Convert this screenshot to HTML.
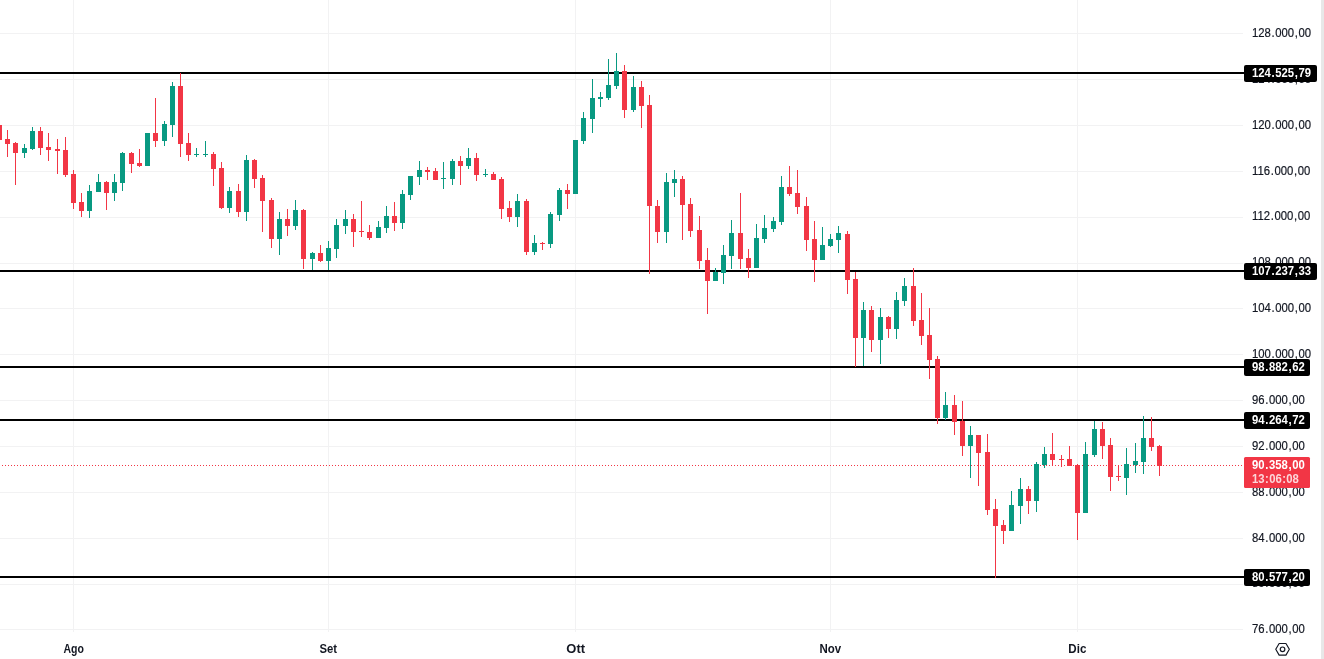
<!DOCTYPE html>
<html><head><meta charset="utf-8"><title>chart</title>
<style>
html,body{margin:0;padding:0;background:#fff;}
body{width:1324px;height:659px;overflow:hidden;position:relative;font-family:"Liberation Sans",sans-serif;}
#c{position:absolute;left:0;top:0;}
#txt{position:absolute;left:0;top:0;width:1324px;height:659px;will-change:transform;}
.pl{position:absolute;left:1252px;-webkit-text-stroke:0.2px #131722;height:14px;line-height:14px;font-size:12.5px;color:#131722;white-space:nowrap;transform-origin:0 50%;transform:scaleX(0.905);}
.p{padding:0 0.7px;}
.q{padding:0 0.45px;}
.bx{position:absolute;left:1244px;height:17px;border-radius:2px;background:#000;}
.t{position:absolute;left:8px;color:#fff;font-weight:bold;font-size:12.5px;white-space:nowrap;transform-origin:0 50%;transform:scaleX(0.905);}
.bx .t{top:0;height:17px;line-height:17px;}
.cp{position:absolute;left:1244px;top:457px;width:66px;height:31px;border-radius:1.5px;background:#f23645;}
.cp .t{height:14px;line-height:14px;}
.tl{position:absolute;top:641px;height:16px;line-height:16px;width:60px;text-align:center;font-size:12px;font-weight:bold;color:#131722;}
.tl span{display:inline-block;}
#strip{position:absolute;left:1321px;top:0;width:3px;height:659px;background:#e8e8e8;}
</style></head><body>
<svg id="c" width="1324" height="659" viewBox="0 0 1324 659" shape-rendering="crispEdges">
<rect x="73" y="0" width="1" height="632" fill="#f2f2f3"/>
<rect x="328" y="0" width="1" height="632" fill="#f2f2f3"/>
<rect x="575" y="0" width="1" height="632" fill="#f2f2f3"/>
<rect x="830" y="0" width="1" height="632" fill="#f2f2f3"/>
<rect x="1077" y="0" width="1" height="632" fill="#f2f2f3"/>
<rect x="0" y="629" width="1243" height="1" fill="#f2f2f3"/>
<rect x="0" y="584" width="1243" height="1" fill="#f2f2f3"/>
<rect x="0" y="538" width="1243" height="1" fill="#f2f2f3"/>
<rect x="0" y="492" width="1243" height="1" fill="#f2f2f3"/>
<rect x="0" y="446" width="1243" height="1" fill="#f2f2f3"/>
<rect x="0" y="400" width="1243" height="1" fill="#f2f2f3"/>
<rect x="0" y="354" width="1243" height="1" fill="#f2f2f3"/>
<rect x="0" y="308" width="1243" height="1" fill="#f2f2f3"/>
<rect x="0" y="263" width="1243" height="1" fill="#f2f2f3"/>
<rect x="0" y="217" width="1243" height="1" fill="#f2f2f3"/>
<rect x="0" y="171" width="1243" height="1" fill="#f2f2f3"/>
<rect x="0" y="125" width="1243" height="1" fill="#f2f2f3"/>
<rect x="0" y="79" width="1243" height="1" fill="#f2f2f3"/>
<rect x="0" y="33" width="1243" height="1" fill="#f2f2f3"/>
<rect x="0" y="72" width="1244" height="2" fill="#000"/>
<rect x="0" y="270" width="1244" height="2" fill="#000"/>
<rect x="0" y="366" width="1244" height="2" fill="#000"/>
<rect x="0" y="419" width="1244" height="2" fill="#000"/>
<rect x="0" y="576" width="1244" height="2" fill="#000"/>
<line x1="-1" y1="465.5" x2="1244" y2="465.5" stroke="#f23645" stroke-width="1" stroke-dasharray="1 2"/>
<rect x="-1" y="125" width="1" height="15" fill="#f23645"/>
<rect x="-3" y="125" width="5" height="15" fill="#f23645"/>
<rect x="7" y="130" width="1" height="27" fill="#f23645"/>
<rect x="5" y="139" width="5" height="5" fill="#f23645"/>
<rect x="15" y="142" width="1" height="43" fill="#f23645"/>
<rect x="13" y="143" width="5" height="10" fill="#f23645"/>
<rect x="24" y="144" width="1" height="14" fill="#089981"/>
<rect x="22" y="148" width="5" height="5" fill="#089981"/>
<rect x="32" y="127" width="1" height="23" fill="#089981"/>
<rect x="30" y="131" width="5" height="18" fill="#089981"/>
<rect x="40" y="127" width="1" height="28" fill="#f23645"/>
<rect x="38" y="131" width="5" height="17" fill="#f23645"/>
<rect x="48" y="133" width="1" height="28" fill="#f23645"/>
<rect x="46" y="147" width="5" height="3" fill="#f23645"/>
<rect x="57" y="139" width="1" height="35" fill="#f23645"/>
<rect x="55" y="149" width="5" height="2" fill="#f23645"/>
<rect x="65" y="137" width="1" height="40" fill="#f23645"/>
<rect x="63" y="150" width="5" height="25" fill="#f23645"/>
<rect x="73" y="170" width="1" height="39" fill="#f23645"/>
<rect x="71" y="174" width="5" height="29" fill="#f23645"/>
<rect x="81" y="193" width="1" height="24" fill="#f23645"/>
<rect x="79" y="202" width="5" height="9" fill="#f23645"/>
<rect x="89" y="185" width="1" height="33" fill="#089981"/>
<rect x="87" y="191" width="5" height="20" fill="#089981"/>
<rect x="98" y="174" width="1" height="18" fill="#089981"/>
<rect x="96" y="182" width="5" height="10" fill="#089981"/>
<rect x="106" y="181" width="1" height="29" fill="#f23645"/>
<rect x="104" y="182" width="5" height="11" fill="#f23645"/>
<rect x="114" y="174" width="1" height="27" fill="#089981"/>
<rect x="112" y="182" width="5" height="11" fill="#089981"/>
<rect x="122" y="152" width="1" height="39" fill="#089981"/>
<rect x="120" y="153" width="5" height="30" fill="#089981"/>
<rect x="131" y="152" width="1" height="21" fill="#f23645"/>
<rect x="129" y="153" width="5" height="11" fill="#f23645"/>
<rect x="139" y="149" width="1" height="18" fill="#f23645"/>
<rect x="137" y="163" width="5" height="3" fill="#f23645"/>
<rect x="147" y="133" width="1" height="33" fill="#089981"/>
<rect x="145" y="133" width="5" height="33" fill="#089981"/>
<rect x="155" y="98" width="1" height="49" fill="#f23645"/>
<rect x="153" y="133" width="5" height="8" fill="#f23645"/>
<rect x="164" y="121" width="1" height="25" fill="#089981"/>
<rect x="162" y="124" width="5" height="17" fill="#089981"/>
<rect x="172" y="82" width="1" height="55" fill="#089981"/>
<rect x="170" y="86" width="5" height="39" fill="#089981"/>
<rect x="180" y="73" width="1" height="84" fill="#f23645"/>
<rect x="178" y="86" width="5" height="58" fill="#f23645"/>
<rect x="188" y="133" width="1" height="28" fill="#f23645"/>
<rect x="186" y="143" width="5" height="12" fill="#f23645"/>
<rect x="196" y="148" width="1" height="9" fill="#089981"/>
<rect x="194" y="154" width="5" height="1" fill="#089981"/>
<rect x="205" y="141" width="1" height="16" fill="#089981"/>
<rect x="203" y="154" width="5" height="1" fill="#089981"/>
<rect x="213" y="152" width="1" height="34" fill="#f23645"/>
<rect x="211" y="154" width="5" height="15" fill="#f23645"/>
<rect x="221" y="162" width="1" height="47" fill="#f23645"/>
<rect x="219" y="168" width="5" height="40" fill="#f23645"/>
<rect x="229" y="187" width="1" height="26" fill="#089981"/>
<rect x="227" y="191" width="5" height="17" fill="#089981"/>
<rect x="238" y="184" width="1" height="33" fill="#f23645"/>
<rect x="236" y="191" width="5" height="21" fill="#f23645"/>
<rect x="246" y="155" width="1" height="66" fill="#089981"/>
<rect x="244" y="160" width="5" height="52" fill="#089981"/>
<rect x="254" y="159" width="1" height="29" fill="#f23645"/>
<rect x="252" y="160" width="5" height="19" fill="#f23645"/>
<rect x="262" y="175" width="1" height="57" fill="#f23645"/>
<rect x="260" y="178" width="5" height="23" fill="#f23645"/>
<rect x="271" y="198" width="1" height="50" fill="#f23645"/>
<rect x="269" y="200" width="5" height="39" fill="#f23645"/>
<rect x="279" y="212" width="1" height="43" fill="#089981"/>
<rect x="277" y="219" width="5" height="20" fill="#089981"/>
<rect x="287" y="209" width="1" height="27" fill="#f23645"/>
<rect x="285" y="219" width="5" height="7" fill="#f23645"/>
<rect x="295" y="200" width="1" height="30" fill="#089981"/>
<rect x="293" y="210" width="5" height="16" fill="#089981"/>
<rect x="303" y="209" width="1" height="60" fill="#f23645"/>
<rect x="301" y="210" width="5" height="49" fill="#f23645"/>
<rect x="312" y="252" width="1" height="18" fill="#089981"/>
<rect x="310" y="253" width="5" height="6" fill="#089981"/>
<rect x="320" y="245" width="1" height="17" fill="#f23645"/>
<rect x="318" y="253" width="5" height="8" fill="#f23645"/>
<rect x="328" y="241" width="1" height="29" fill="#089981"/>
<rect x="326" y="248" width="5" height="13" fill="#089981"/>
<rect x="336" y="219" width="1" height="39" fill="#089981"/>
<rect x="334" y="225" width="5" height="24" fill="#089981"/>
<rect x="345" y="210" width="1" height="24" fill="#089981"/>
<rect x="343" y="219" width="5" height="7" fill="#089981"/>
<rect x="353" y="214" width="1" height="33" fill="#f23645"/>
<rect x="351" y="219" width="5" height="13" fill="#f23645"/>
<rect x="361" y="201" width="1" height="36" fill="#f23645"/>
<rect x="359" y="231" width="5" height="1" fill="#f23645"/>
<rect x="369" y="225" width="1" height="15" fill="#f23645"/>
<rect x="367" y="232" width="5" height="6" fill="#f23645"/>
<rect x="378" y="221" width="1" height="17" fill="#089981"/>
<rect x="376" y="227" width="5" height="11" fill="#089981"/>
<rect x="386" y="206" width="1" height="27" fill="#089981"/>
<rect x="384" y="216" width="5" height="12" fill="#089981"/>
<rect x="394" y="202" width="1" height="29" fill="#f23645"/>
<rect x="392" y="216" width="5" height="7" fill="#f23645"/>
<rect x="402" y="190" width="1" height="39" fill="#089981"/>
<rect x="400" y="194" width="5" height="29" fill="#089981"/>
<rect x="410" y="176" width="1" height="24" fill="#089981"/>
<rect x="408" y="176" width="5" height="19" fill="#089981"/>
<rect x="419" y="161" width="1" height="24" fill="#089981"/>
<rect x="417" y="170" width="5" height="7" fill="#089981"/>
<rect x="427" y="167" width="1" height="13" fill="#f23645"/>
<rect x="425" y="170" width="5" height="2" fill="#f23645"/>
<rect x="435" y="168" width="1" height="12" fill="#f23645"/>
<rect x="433" y="171" width="5" height="9" fill="#f23645"/>
<rect x="443" y="162" width="1" height="27" fill="#089981"/>
<rect x="441" y="178" width="5" height="1" fill="#089981"/>
<rect x="452" y="159" width="1" height="26" fill="#089981"/>
<rect x="450" y="161" width="5" height="18" fill="#089981"/>
<rect x="460" y="156" width="1" height="29" fill="#f23645"/>
<rect x="458" y="161" width="5" height="5" fill="#f23645"/>
<rect x="468" y="148" width="1" height="21" fill="#089981"/>
<rect x="466" y="158" width="5" height="8" fill="#089981"/>
<rect x="476" y="153" width="1" height="28" fill="#f23645"/>
<rect x="474" y="158" width="5" height="17" fill="#f23645"/>
<rect x="485" y="169" width="1" height="8" fill="#089981"/>
<rect x="483" y="174" width="5" height="1" fill="#089981"/>
<rect x="493" y="172" width="1" height="8" fill="#f23645"/>
<rect x="491" y="174" width="5" height="6" fill="#f23645"/>
<rect x="501" y="177" width="1" height="42" fill="#f23645"/>
<rect x="499" y="179" width="5" height="30" fill="#f23645"/>
<rect x="509" y="201" width="1" height="21" fill="#f23645"/>
<rect x="507" y="208" width="5" height="9" fill="#f23645"/>
<rect x="517" y="194" width="1" height="33" fill="#089981"/>
<rect x="515" y="201" width="5" height="16" fill="#089981"/>
<rect x="526" y="199" width="1" height="56" fill="#f23645"/>
<rect x="524" y="201" width="5" height="51" fill="#f23645"/>
<rect x="534" y="235" width="1" height="20" fill="#089981"/>
<rect x="532" y="243" width="5" height="9" fill="#089981"/>
<rect x="542" y="242" width="1" height="8" fill="#f23645"/>
<rect x="540" y="243" width="5" height="1" fill="#f23645"/>
<rect x="550" y="212" width="1" height="36" fill="#089981"/>
<rect x="548" y="214" width="5" height="30" fill="#089981"/>
<rect x="559" y="188" width="1" height="33" fill="#089981"/>
<rect x="557" y="190" width="5" height="25" fill="#089981"/>
<rect x="567" y="184" width="1" height="25" fill="#f23645"/>
<rect x="565" y="190" width="5" height="4" fill="#f23645"/>
<rect x="575" y="140" width="1" height="54" fill="#089981"/>
<rect x="573" y="140" width="5" height="54" fill="#089981"/>
<rect x="583" y="112" width="1" height="32" fill="#089981"/>
<rect x="581" y="118" width="5" height="23" fill="#089981"/>
<rect x="592" y="79" width="1" height="54" fill="#089981"/>
<rect x="590" y="98" width="5" height="21" fill="#089981"/>
<rect x="600" y="92" width="1" height="15" fill="#089981"/>
<rect x="598" y="97" width="5" height="2" fill="#089981"/>
<rect x="608" y="59" width="1" height="41" fill="#089981"/>
<rect x="606" y="85" width="5" height="13" fill="#089981"/>
<rect x="616" y="53" width="1" height="36" fill="#089981"/>
<rect x="614" y="71" width="5" height="15" fill="#089981"/>
<rect x="624" y="65" width="1" height="53" fill="#f23645"/>
<rect x="622" y="71" width="5" height="39" fill="#f23645"/>
<rect x="633" y="76" width="1" height="36" fill="#089981"/>
<rect x="631" y="87" width="5" height="23" fill="#089981"/>
<rect x="641" y="81" width="1" height="47" fill="#f23645"/>
<rect x="639" y="87" width="5" height="19" fill="#f23645"/>
<rect x="649" y="95" width="1" height="179" fill="#f23645"/>
<rect x="647" y="105" width="5" height="101" fill="#f23645"/>
<rect x="657" y="200" width="1" height="43" fill="#f23645"/>
<rect x="655" y="206" width="5" height="26" fill="#f23645"/>
<rect x="666" y="173" width="1" height="70" fill="#089981"/>
<rect x="664" y="182" width="5" height="50" fill="#089981"/>
<rect x="674" y="170" width="1" height="27" fill="#089981"/>
<rect x="672" y="179" width="5" height="4" fill="#089981"/>
<rect x="682" y="176" width="1" height="64" fill="#f23645"/>
<rect x="680" y="179" width="5" height="26" fill="#f23645"/>
<rect x="690" y="198" width="1" height="39" fill="#f23645"/>
<rect x="688" y="204" width="5" height="27" fill="#f23645"/>
<rect x="699" y="216" width="1" height="53" fill="#f23645"/>
<rect x="697" y="230" width="5" height="31" fill="#f23645"/>
<rect x="707" y="248" width="1" height="66" fill="#f23645"/>
<rect x="705" y="260" width="5" height="21" fill="#f23645"/>
<rect x="715" y="268" width="1" height="13" fill="#089981"/>
<rect x="713" y="272" width="5" height="9" fill="#089981"/>
<rect x="723" y="245" width="1" height="39" fill="#089981"/>
<rect x="721" y="255" width="5" height="18" fill="#089981"/>
<rect x="731" y="220" width="1" height="49" fill="#089981"/>
<rect x="729" y="233" width="5" height="23" fill="#089981"/>
<rect x="740" y="193" width="1" height="76" fill="#f23645"/>
<rect x="738" y="233" width="5" height="26" fill="#f23645"/>
<rect x="748" y="249" width="1" height="29" fill="#f23645"/>
<rect x="746" y="258" width="5" height="10" fill="#f23645"/>
<rect x="756" y="224" width="1" height="44" fill="#089981"/>
<rect x="754" y="238" width="5" height="30" fill="#089981"/>
<rect x="764" y="215" width="1" height="28" fill="#089981"/>
<rect x="762" y="228" width="5" height="11" fill="#089981"/>
<rect x="773" y="217" width="1" height="15" fill="#089981"/>
<rect x="771" y="221" width="5" height="8" fill="#089981"/>
<rect x="781" y="176" width="1" height="49" fill="#089981"/>
<rect x="779" y="187" width="5" height="35" fill="#089981"/>
<rect x="789" y="166" width="1" height="30" fill="#f23645"/>
<rect x="787" y="187" width="5" height="7" fill="#f23645"/>
<rect x="797" y="170" width="1" height="44" fill="#f23645"/>
<rect x="795" y="193" width="5" height="14" fill="#f23645"/>
<rect x="806" y="197" width="1" height="54" fill="#f23645"/>
<rect x="804" y="206" width="5" height="34" fill="#f23645"/>
<rect x="814" y="221" width="1" height="61" fill="#f23645"/>
<rect x="812" y="239" width="5" height="21" fill="#f23645"/>
<rect x="822" y="227" width="1" height="33" fill="#089981"/>
<rect x="820" y="245" width="5" height="15" fill="#089981"/>
<rect x="830" y="234" width="1" height="13" fill="#089981"/>
<rect x="828" y="239" width="5" height="7" fill="#089981"/>
<rect x="838" y="226" width="1" height="27" fill="#089981"/>
<rect x="836" y="233" width="5" height="7" fill="#089981"/>
<rect x="847" y="231" width="1" height="63" fill="#f23645"/>
<rect x="845" y="234" width="5" height="46" fill="#f23645"/>
<rect x="855" y="272" width="1" height="95" fill="#f23645"/>
<rect x="853" y="279" width="5" height="59" fill="#f23645"/>
<rect x="863" y="302" width="1" height="64" fill="#089981"/>
<rect x="861" y="310" width="5" height="28" fill="#089981"/>
<rect x="871" y="306" width="1" height="46" fill="#f23645"/>
<rect x="869" y="310" width="5" height="30" fill="#f23645"/>
<rect x="880" y="308" width="1" height="56" fill="#089981"/>
<rect x="878" y="317" width="5" height="23" fill="#089981"/>
<rect x="888" y="316" width="1" height="22" fill="#f23645"/>
<rect x="886" y="317" width="5" height="12" fill="#f23645"/>
<rect x="896" y="292" width="1" height="47" fill="#089981"/>
<rect x="894" y="300" width="5" height="29" fill="#089981"/>
<rect x="904" y="278" width="1" height="28" fill="#089981"/>
<rect x="902" y="286" width="5" height="15" fill="#089981"/>
<rect x="913" y="268" width="1" height="58" fill="#f23645"/>
<rect x="911" y="286" width="5" height="35" fill="#f23645"/>
<rect x="921" y="293" width="1" height="52" fill="#f23645"/>
<rect x="919" y="320" width="5" height="16" fill="#f23645"/>
<rect x="929" y="308" width="1" height="71" fill="#f23645"/>
<rect x="927" y="335" width="5" height="25" fill="#f23645"/>
<rect x="937" y="356" width="1" height="68" fill="#f23645"/>
<rect x="935" y="359" width="5" height="59" fill="#f23645"/>
<rect x="945" y="392" width="1" height="28" fill="#089981"/>
<rect x="943" y="405" width="5" height="13" fill="#089981"/>
<rect x="954" y="395" width="1" height="40" fill="#f23645"/>
<rect x="952" y="405" width="5" height="17" fill="#f23645"/>
<rect x="962" y="401" width="1" height="55" fill="#f23645"/>
<rect x="960" y="421" width="5" height="25" fill="#f23645"/>
<rect x="970" y="426" width="1" height="52" fill="#089981"/>
<rect x="968" y="435" width="5" height="11" fill="#089981"/>
<rect x="978" y="435" width="1" height="51" fill="#f23645"/>
<rect x="976" y="435" width="5" height="18" fill="#f23645"/>
<rect x="987" y="434" width="1" height="81" fill="#f23645"/>
<rect x="985" y="452" width="5" height="58" fill="#f23645"/>
<rect x="995" y="499" width="1" height="79" fill="#f23645"/>
<rect x="993" y="509" width="5" height="17" fill="#f23645"/>
<rect x="1003" y="520" width="1" height="24" fill="#f23645"/>
<rect x="1001" y="525" width="5" height="6" fill="#f23645"/>
<rect x="1011" y="491" width="1" height="40" fill="#089981"/>
<rect x="1009" y="505" width="5" height="26" fill="#089981"/>
<rect x="1020" y="478" width="1" height="46" fill="#089981"/>
<rect x="1018" y="489" width="5" height="17" fill="#089981"/>
<rect x="1028" y="486" width="1" height="28" fill="#f23645"/>
<rect x="1026" y="489" width="5" height="12" fill="#f23645"/>
<rect x="1036" y="462" width="1" height="50" fill="#089981"/>
<rect x="1034" y="464" width="5" height="37" fill="#089981"/>
<rect x="1044" y="447" width="1" height="21" fill="#089981"/>
<rect x="1042" y="454" width="5" height="11" fill="#089981"/>
<rect x="1052" y="433" width="1" height="33" fill="#f23645"/>
<rect x="1050" y="454" width="5" height="6" fill="#f23645"/>
<rect x="1061" y="455" width="1" height="12" fill="#f23645"/>
<rect x="1059" y="459" width="5" height="1" fill="#f23645"/>
<rect x="1069" y="446" width="1" height="20" fill="#f23645"/>
<rect x="1067" y="459" width="5" height="7" fill="#f23645"/>
<rect x="1077" y="464" width="1" height="76" fill="#f23645"/>
<rect x="1075" y="465" width="5" height="48" fill="#f23645"/>
<rect x="1085" y="442" width="1" height="71" fill="#089981"/>
<rect x="1083" y="454" width="5" height="59" fill="#089981"/>
<rect x="1094" y="421" width="1" height="36" fill="#089981"/>
<rect x="1092" y="429" width="5" height="26" fill="#089981"/>
<rect x="1102" y="422" width="1" height="37" fill="#f23645"/>
<rect x="1100" y="429" width="5" height="17" fill="#f23645"/>
<rect x="1110" y="438" width="1" height="53" fill="#f23645"/>
<rect x="1108" y="445" width="5" height="32" fill="#f23645"/>
<rect x="1118" y="465" width="1" height="16" fill="#f23645"/>
<rect x="1116" y="476" width="5" height="1" fill="#f23645"/>
<rect x="1126" y="448" width="1" height="47" fill="#089981"/>
<rect x="1124" y="464" width="5" height="14" fill="#089981"/>
<rect x="1135" y="443" width="1" height="30" fill="#089981"/>
<rect x="1133" y="461" width="5" height="4" fill="#089981"/>
<rect x="1143" y="416" width="1" height="58" fill="#089981"/>
<rect x="1141" y="438" width="5" height="24" fill="#089981"/>
<rect x="1151" y="417" width="1" height="34" fill="#f23645"/>
<rect x="1149" y="438" width="5" height="9" fill="#f23645"/>
<rect x="1159" y="445" width="1" height="31" fill="#f23645"/>
<rect x="1157" y="446" width="5" height="20" fill="#f23645"/>
</svg>
<div id="txt">
<div class="pl" style="top:622.29px">76<span class="p">.</span>000<span class="p">,</span>00</div>
<div class="pl" style="top:576.42px">80<span class="p">.</span>000<span class="p">,</span>00</div>
<div class="pl" style="top:530.55px">84<span class="p">.</span>000<span class="p">,</span>00</div>
<div class="pl" style="top:484.68px">88<span class="p">.</span>000<span class="p">,</span>00</div>
<div class="pl" style="top:438.80px">92<span class="p">.</span>000<span class="p">,</span>00</div>
<div class="pl" style="top:392.93px">96<span class="p">.</span>000<span class="p">,</span>00</div>
<div class="pl" style="top:347.06px">100<span class="p">.</span>000<span class="p">,</span>00</div>
<div class="pl" style="top:301.19px">104<span class="p">.</span>000<span class="p">,</span>00</div>
<div class="pl" style="top:255.32px">108<span class="p">.</span>000<span class="p">,</span>00</div>
<div class="pl" style="top:209.45px">112<span class="p">.</span>000<span class="p">,</span>00</div>
<div class="pl" style="top:163.57px">116<span class="p">.</span>000<span class="p">,</span>00</div>
<div class="pl" style="top:117.70px">120<span class="p">.</span>000<span class="p">,</span>00</div>
<div class="pl" style="top:71.83px">124<span class="p">.</span>000<span class="p">,</span>00</div>
<div class="pl" style="top:25.96px">128<span class="p">.</span>000<span class="p">,</span>00</div>
<div class="bx" style="top:64.5px;width:73px"><span class="t">124<span class="p">.</span>525<span class="p">,</span>79</span></div>
<div class="bx" style="top:262.5px;width:73px"><span class="t">107<span class="p">.</span>237<span class="p">,</span>33</span></div>
<div class="bx" style="top:358.5px;width:66px"><span class="t">98<span class="p">.</span>882<span class="p">,</span>62</span></div>
<div class="bx" style="top:411.5px;width:66px"><span class="t">94<span class="p">.</span>264<span class="p">,</span>72</span></div>
<div class="bx" style="top:568.5px;width:66px"><span class="t">80<span class="p">.</span>577<span class="p">,</span>20</span></div>
<div class="cp"><span class="t" style="top:1px">90<span class="p">.</span>358<span class="p">,</span>00</span><span class="t" style="top:15px;color:rgba(255,255,255,0.8)">13<span class="q">:</span>06<span class="q">:</span>08</span></div>
<div class="tl" style="left:43.5px"><span style="transform:scaleX(0.875)">Ago</span></div>
<div class="tl" style="left:298.5px"><span style="transform:scaleX(0.94)">Set</span></div>
<div class="tl" style="left:545.5px"><span style="transform:scaleX(1.08)">Ott</span></div>
<div class="tl" style="left:800.5px"><span style="transform:scaleX(0.955)">Nov</span></div>
<div class="tl" style="left:1047.5px"><span style="transform:scaleX(0.965)">Dic</span></div>
<svg style="position:absolute;left:1272px;top:640px" width="21" height="19" viewBox="0 0 21 19"><polygon points="3.75,9.3 7.15,3.5 13.95,3.5 17.35,9.3 13.95,15.1 7.15,15.1" fill="none" stroke="#131722" stroke-width="1.15" stroke-linejoin="round"/><circle cx="10.55" cy="9.3" r="2.3" fill="none" stroke="#131722" stroke-width="1.2"/></svg>
</div>
<div id="strip"></div>
</body></html>
